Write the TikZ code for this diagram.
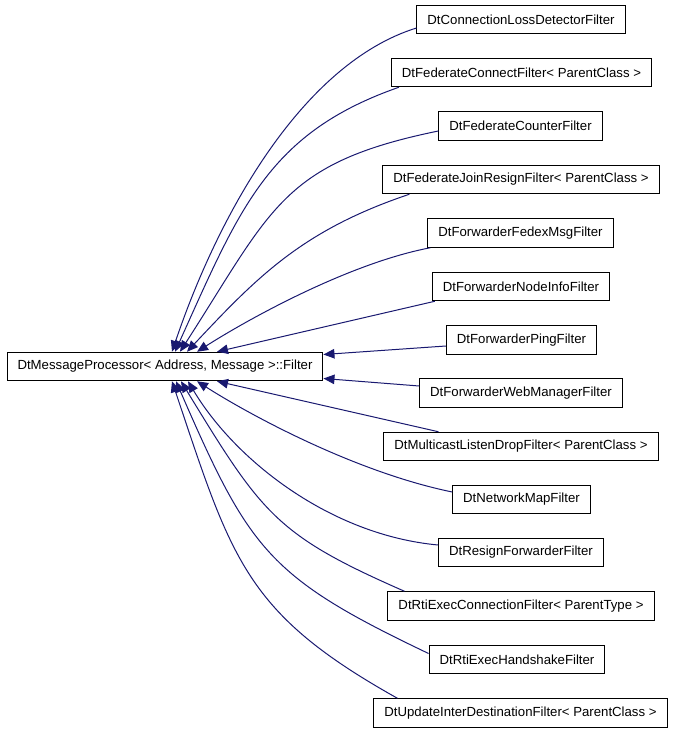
\documentclass[tikz,border=0pt]{standalone}
\usepackage{fontspec}
\setmainfont{Liberation Sans}
\usetikzlibrary{arrows.meta,calc}
\definecolor{edgeblue}{HTML}{191970}
\begin{document}
\begin{tikzpicture}[x=1pt,y=-1pt,
  cls/.style={draw=black,line width=1pt,fill=white,rectangle,inner xsep=10.5pt,inner ysep=0pt,minimum height=28.5pt,font=\fontsize{13.2}{15}\selectfont},
  edge/.style={draw=edgeblue,line width=1pt,{Triangle[length=11pt,width=9.5pt]}-}]
\useasboundingbox (0,0) rectangle (675,733);
\node[cls] (m) at (165,366.5) {DtMessageProcessor< Address, Message >::Filter};
\node[cls] (c1) at (521,19.5) {DtConnectionLossDetectorFilter};
\node[cls] (c2) at (521.5,72.5) {DtFederateConnectFilter< ParentClass >};
\node[cls] (c3) at (520.5,126) {DtFederateCounterFilter};
\node[cls] (c4) at (521,179.5) {DtFederateJoinResignFilter< ParentClass >};
\node[cls] (c5) at (520.5,233) {DtForwarderFedexMsgFilter};
\node[cls] (c6) at (521,286.5) {DtForwarderNodeInfoFilter};
\node[cls] (c7) at (521.5,340) {DtForwarderPingFilter};
\node[cls] (c8) at (521,393) {DtForwarderWebManagerFilter};
\node[cls] (c9) at (521,446.5) {DtMulticastListenDropFilter< ParentClass >};
\node[cls] (c10) at (521.5,499.5) {DtNetworkMapFilter};
\node[cls] (c11) at (521,552.5) {DtResignForwarderFilter};
\node[cls] (c12) at (521,606) {DtRtiExecConnectionFilter< ParentType >};
\node[cls] (c13) at (517,659.5) {DtRtiExecHandshakeFilter};
\node[cls] (c14) at (520.5,713) {DtUpdateInterDestinationFilter< ParentClass >};
\draw[edge] ($(m.north)+(7,0)$) .. controls (220,210) and (304,63) .. ($(c1.west)+(0,8.5)$);
\draw[edge] ($(m.north)+(10,0)$) .. controls (240,208) and (268,133) .. ($(c2.south west)+(8,0)$);
\draw[edge] ($(m.north)+(15,0)$) .. controls (272,209) and (282,163) .. ($(c3.west)+(0,5)$);
\draw[edge] ($(m.north)+(22,0)$) .. controls (258,276) and (303,230) .. ($(c4.south west)+(27,0)$);
\draw[edge] ($(m.north)+(32,0)$) .. controls (250,318) and (350,263) .. ($(c5.south west)+(3,0)$);
\draw[edge] ($(m.north)+(52,0)$) -- ($(c6.south west)+(3,0)$);
\draw[edge] ($(m.east)+(0,-12)$) -- ($(c7.west)+(0,6)$);
\draw[edge] ($(m.east)+(0,12)$) -- ($(c8.west)+(0,-7)$);
\draw[edge] ($(m.south)+(52,0)$) -- ($(c9.north west)+(55,0)$);
\draw[edge] ($(m.south)+(32,0)$) .. controls (250,415) and (355,472) .. ($(c10.west)+(0,-7.5)$);
\draw[edge] ($(m.south)+(23,0)$) .. controls (235,460) and (330,535) .. ($(c11.west)+(0,-7.5)$);
\draw[edge] ($(m.south)+(16,0)$) .. controls (262,514) and (276,535) .. ($(c12.north west)+(17,0)$);
\draw[edge] ($(m.south)+(11,0)$) .. controls (249.5,550) and (268,577) .. ($(c13.west)+(0,-6)$);
\draw[edge] ($(m.south)+(7,0)$) .. controls (232,560) and (245,613) .. ($(c14.north west)+(24,0)$);
\end{tikzpicture}
\end{document}
